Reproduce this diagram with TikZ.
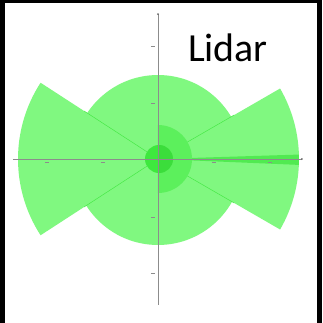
\documentclass[tikz,border=0pt]{standalone}
\usepackage{fontspec}
\setmainfont{Carlito}
\usepackage{tikz}
\usetikzlibrary{calc}
\definecolor{clight}{HTML}{80F880}
\definecolor{cedge}{HTML}{45E845}
\definecolor{chalf}{HTML}{5CF05C}
\definecolor{cnear}{HTML}{3EE83E}
\definecolor{caxis}{HTML}{8C8C8C}
\tikzset{
  zone/.style={fill=clight},
  sector/.style={fill=clight},
  secedge/.style={draw=cedge, line width=0.4pt},
  sliver/.style={fill=cnear!90},
  halfz/.style={fill=chalf},
  nearz/.style={fill=cnear},
  axisl/.style={draw=caxis, line width=0.45pt},
  tickm/.style={draw=black!45, line width=0.6pt},
  ttl/.style={font=\fontsize{34}{34}\selectfont, text=black, inner sep=0pt},
}
\begin{document}
\begin{tikzpicture}[x=0.03cm,y=0.03cm]
% ---------------- frame
\fill[black] (0,0) rectangle (322,323);
\fill[white] (5,0) rectangle (317,320);
\useasboundingbox (0,0) rectangle (322,323);
% ---------------- coverage
\begin{scope}[shift={(158,164)}]
\coordinate (o) at (0,0);
\fill[zone] (0,-1) circle[radius=85];
\fill[sector] (o) -- (147:140) arc[start angle=147, end angle=213, radius=140] -- cycle;
\fill[sector] (o) -- (-30:141) arc[start angle=-30, end angle=30, radius=141] -- cycle;
\foreach \a in {147,213,-30,30} {
  \draw[secedge] (o) -- (\a:88);
}
\fill[sliver] (o) -- (-2.4:141) arc[start angle=-2.4, end angle=1.8, radius=141] -- cycle;
\fill[halfz] (0,-34) arc[start angle=-90, end angle=90, radius=34] -- cycle;
\fill[nearz] (1,0) circle[radius=14];
\fill[cnear!85!black, opacity=0.3] (1,-14) arc[start angle=-90, end angle=90, radius=14] -- cycle;
% ---------------- axes
\draw[axisl] (-145,0) -- (144,0);
\draw[axisl] (0,145) -- (0,-146);
\foreach \x in {-111,-55,56,112} {
  \draw[tickm] (\x-2,-3) -- (\x+2,-3);
}
\foreach \y in {113,56,-58,-114} {
  \draw[tickm] (-7,\y) -- (-3,\y);
}
\fill[black!60] (144,0) circle[radius=1];
\fill[black!60] (0,145) circle[radius=1];
\end{scope}
% ---------------- title
\node[ttl, anchor=base] (title) at (228,262) {Lidar};
\end{tikzpicture}
\end{document}
